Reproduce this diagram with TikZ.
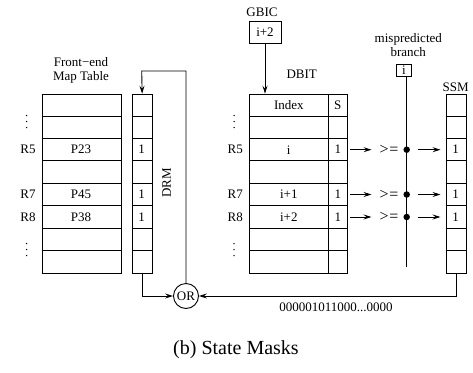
\documentclass[tikz,border=0pt]{standalone}
\usepackage{fontspec}
\setmainfont{Liberation Serif}
\usetikzlibrary{arrows.meta}
\begin{document}
\begin{tikzpicture}[x=1pt,y=-1pt,
  font=\fontsize{13}{15}\selectfont,
  tbl/.style={draw, line width=0.9pt, inner sep=0pt, anchor=north west},
  rl/.style={line width=0.9pt},
  lbl/.style={inner sep=0pt},
  arr/.style={line width=0.9pt, -{Stealth[length=8pt,width=5pt,inset=3pt]}},
  vdot/.style={fill, radius=0.75pt},
  sbox/.style={draw, line width=0.9pt, inner sep=0pt},
  junc/.style={circle, fill, inner sep=0pt, minimum size=6.5pt}
]
\useasboundingbox (0,0) rectangle (473,372);
\def\ry#1{93.7+#1*22.41}
% tables
\node[tbl, minimum width=78.7pt, minimum height=179.3pt] (FMT) at (42,93.7) {};
\node[tbl, minimum width=20pt, minimum height=179.3pt] (DRM) at (131.7,93.7) {};
\node[tbl, minimum width=98pt, minimum height=179.3pt] (DBIT) at (249.3,93.7) {};
\node[tbl, minimum width=20pt, minimum height=179.3pt] (SSM) at (445.7,93.7) {};
\foreach \k in {1,...,7}{
  \draw[rl] (42,{\ry{\k}}) -- (120.7,{\ry{\k}});
  \draw[rl] (131.7,{\ry{\k}}) -- (151.7,{\ry{\k}});
  \draw[rl] (249.3,{\ry{\k}}) -- (347.3,{\ry{\k}});
  \draw[rl] (445.7,{\ry{\k}}) -- (465.7,{\ry{\k}});
}
\draw[line width=1.6pt] (328.3,93.7) -- (328.3,273);
% titles
\node[lbl, align=center] (fetitle) at (81,70.5) {Front−end\\[-1.5pt]Map Table};
\node[lbl] (dbittitle) at (301.7,74) {DBIT};
\node[lbl] (ssmtitle) at (455.7,87) {SSM};
\node[lbl, rotate=90] (drmtitle) at (166.7,183) {DRM};
% row labels
\foreach \x in {26.7,234}{
  \fill[vdot] (\x,115.5) circle; \fill[vdot] (\x,121.5) circle; \fill[vdot] (\x,127.5) circle;
  \fill[vdot] (\x,243.5) circle; \fill[vdot] (\x,249.5) circle; \fill[vdot] (\x,255.5) circle;
}
\node[lbl] (lr5) at (28,149.7) {R5};
\node[lbl] (lr7) at (28,194.5) {R7};
\node[lbl] (lr8) at (28,217) {R8};
\node[lbl] (rr5) at (235.3,149.7) {R5};
\node[lbl] (rr7) at (235.3,194.5) {R7};
\node[lbl] (rr8) at (235.3,217) {R8};
% left contents
\node[lbl] (p23) at (81,149.7) {P23};
\node[lbl] (p45) at (81,194.5) {P45};
\node[lbl] (p38) at (81,217) {P38};
\node[lbl] (d3) at (141.7,149.7) {1};
\node[lbl] (d5) at (141.7,194.5) {1};
\node[lbl] (d6) at (141.7,217) {1};
% DBIT contents
\node[lbl] (idx) at (288.8,104.9) {Index};
\node[lbl] (shdr) at (337.8,104.9) {S};
\node[lbl] (i3) at (288.8,149.7) {i};
\node[lbl] (i5) at (288.8,194.5) {i+1};
\node[lbl] (i6) at (288.8,217) {i+2};
\node[lbl] (s3) at (337.8,149.7) {1};
\node[lbl] (s5) at (337.8,194.5) {1};
\node[lbl] (s6) at (337.8,217) {1};
% SSM contents
\node[lbl] (m3) at (455.7,149.7) {1};
\node[lbl] (m5) at (455.7,194.5) {1};
\node[lbl] (m6) at (455.7,217) {1};
% GBIC
\node[lbl] (gbict) at (262,12) {GBIC};
\node[sbox, minimum width=32pt, minimum height=21.5pt] (gbic) at (265,32.2) {i+2};
\draw[arr] (gbic.south) -- (gbic.south |- DBIT.north);
% mispredicted branch
\node[lbl, align=center] (mbt) at (408.3,45) {mispredicted\\[-1.5pt]branch};
\node[sbox, minimum width=15.7pt, minimum height=11.7pt] (mb) at (403.8,70.2) {i};
\coordinate (mbend) at (406.7,267.3);
\draw[line width=0.9pt] (mb.south -| mbend) -- (mbend);
% comparators
\foreach \r/\y in {3/149.7,5/194.5,6/217}{
  \node[lbl, font=\fontsize{16}{18}\selectfont] (ge\r) at (389,\y) {>\kern0.5pt=};
  \node[junc] (j\r) at (406.7,\y) {};
  \draw[arr] (350,\y) -- (371.5,\y);
  \draw[arr] (417.5,\y) -- (440.5,\y);
}
% OR
\node[draw, circle, line width=0.9pt, inner sep=0pt, minimum size=25pt] (OR) at (186,296) {OR};
\coordinate (fb) at (141.7,71);
\draw[arr] (OR.north) |- (fb) -- (DRM.north);
\draw[arr] (DRM.south) |- (OR.west);
\draw[arr] (SSM.south) |- (OR.east);
\node[lbl] (bits) at (336,307.7) {000001011000...0000};
% caption
\node[lbl, font=\fontsize{20}{22}\selectfont] (cap) at (236,350) {(b) State Masks};
\end{tikzpicture}
\end{document}
